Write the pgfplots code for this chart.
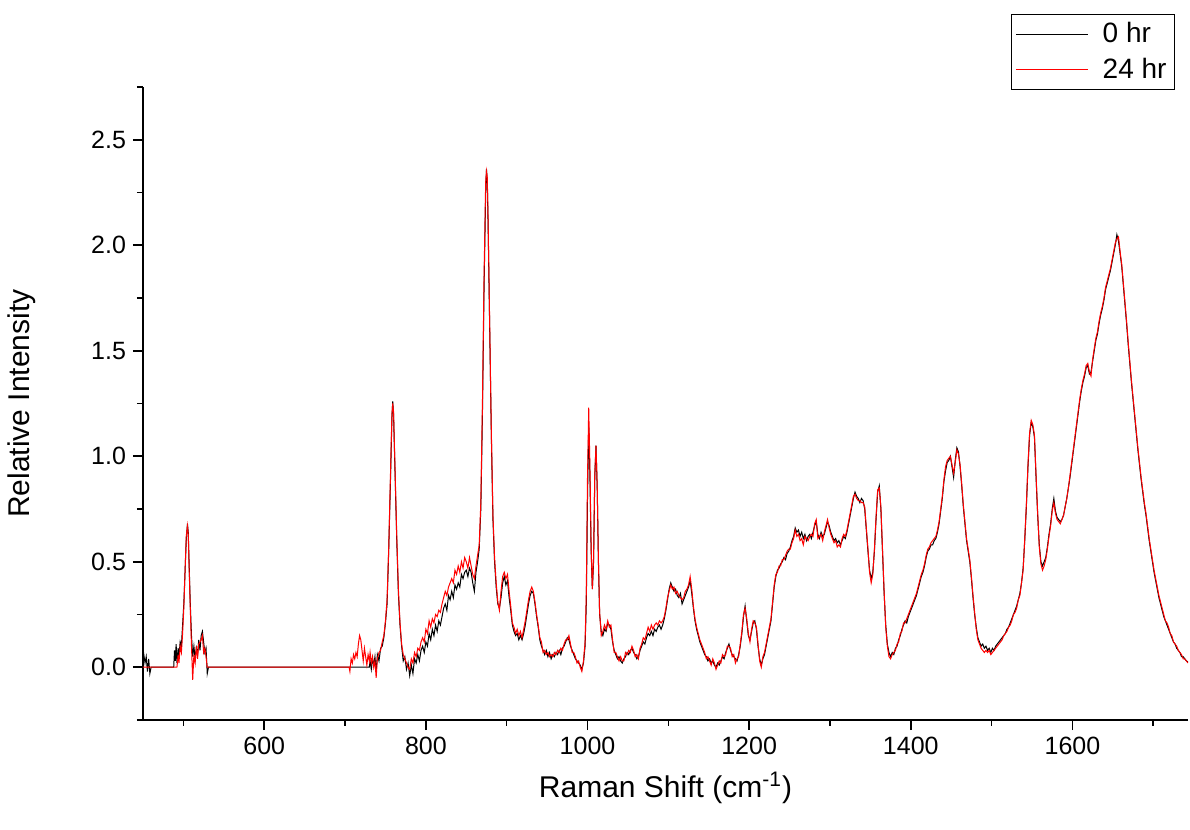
\documentclass[border=0pt]{standalone}
\usepackage{fontspec}
\setmainfont{Liberation Sans}
\usepackage{pgfplots}
\usepackage{pgfplotstable}
\pgfplotsset{compat=1.18}

% Raman spectra: x = shift (cm^-1), b = 0 hr, r = 24 hr
\pgfplotstableread{
x b r
450 0.03 0.00
451 0.06 0.00
452.5 0.02 0.00
454 0.05 0.00
455.5 -0.02 0.00
457 0.04 0.00
458.5 -0.03 0.00
460 0.00 0.00
488 0.00 0.00
489 0.08 0.00
490 0.03 0.00
491 0.11 0.00
492 0.02 0.00
493.5 0.09 0.06
494.5 0.05 0.02
496 0.12 0.10
497.5 0.10 0.07
499 0.20 0.16
500.5 0.30 0.28
502 0.45 0.45
503.5 0.60 0.62
505 0.68 0.67
506 0.64 0.63
507 0.50 0.48
508.5 0.30 0.28
510 0.15 0.10
511.5 0.05 -0.06
513 0.10 0.06
514.5 0.04 0.02
516 0.09 0.10
517.5 0.06 0.04
519 0.13 0.11
520.5 0.08 0.12
522 0.15 0.13
523.5 0.17 0.15
525 0.12 0.07
526.5 0.07 0.09
528 0.09 0.05
529.5 -0.03 0.00
531 0.00 0.00
705 0.00 0.00
706 0.00 -0.02
707.5 0.00 0.04
709 0.00 0.02
710.5 0.00 0.06
712 0.00 0.04
713.5 0.00 0.07
715 0.00 0.05
716.5 0.00 0.11
718 0.00 0.15
719.5 0.00 0.13
721 0.00 0.08
722.5 0.00 0.03
724 0.00 0.09
725.5 0.00 0.05
727 0.00 0.01
728.5 0.00 0.06
730 0.00 0.03
731 0.03 0.07
732.5 -0.01 0.02
734 0.04 0.05
735.5 0.01 0.00
737 0.05 0.03
738.5 -0.02 -0.05
740 0.06 0.04
742 0.03 0.07
744 0.09 0.08
746 0.10 0.12
748 0.14 0.15
750 0.21 0.22
752 0.30 0.32
754 0.55 0.56
756 0.85 0.88
758 1.18 1.20
759 1.26 1.25
760 1.20 1.21
762 0.90 0.92
764 0.60 0.62
766 0.35 0.37
768 0.20 0.21
770 0.10 0.11
772 0.03 0.06
774 0.05 0.04
776 -0.01 0.02
778 0.02 0.00
780 -0.04 -0.01
782 0.01 0.04
784 -0.03 0.02
786 0.04 0.07
788 0.02 0.05
790 0.06 0.09
792 0.03 0.08
794 0.08 0.12
796 0.10 0.14
798 0.07 0.12
800 0.12 0.18
802 0.10 0.16
804 0.16 0.22
806 0.13 0.19
808 0.18 0.23
810 0.15 0.21
812 0.20 0.25
814 0.17 0.24
816 0.22 0.27
818 0.20 0.26
820 0.24 0.30
822 0.28 0.33
824 0.30 0.36
826 0.27 0.34
828 0.34 0.38
830 0.32 0.40
832 0.36 0.42
834 0.33 0.40
836 0.39 0.46
838 0.37 0.44
840 0.40 0.48
842 0.38 0.45
844 0.44 0.50
846 0.42 0.47
848 0.45 0.52
850 0.46 0.50
852 0.43 0.47
854 0.47 0.52
856 0.45 0.48
858 0.40 0.44
860 0.36 0.42
862 0.45 0.48
864 0.50 0.53
866 0.56 0.58
868 0.75 0.78
870 1.20 1.25
872 1.80 1.85
874 2.25 2.30
875 2.36 2.35
876 2.30 2.32
877 2.10 2.12
879 1.60 1.62
881 1.10 1.12
883 0.70 0.72
885 0.50 0.52
887 0.38 0.40
889 0.30 0.31
891 0.28 0.27
893 0.33 0.36
895 0.40 0.43
897 0.43 0.45
899 0.39 0.42
901 0.41 0.44
903 0.33 0.36
905 0.27 0.29
907 0.20 0.21
909 0.17 0.19
911 0.15 0.16
913 0.16 0.18
915 0.13 0.15
917 0.15 0.17
919 0.13 0.14
921 0.16 0.18
923 0.20 0.22
925 0.25 0.27
927 0.30 0.32
929 0.34 0.36
931 0.36 0.38
933 0.35 0.36
935 0.30 0.31
937 0.24 0.25
939 0.19 0.20
941 0.13 0.14
943 0.10 0.12
945 0.08 0.07
947 0.06 0.08
949 0.08 0.06
951 0.05 0.07
953 0.07 0.05
955 0.04 0.06
957 0.06 0.05
959 0.05 0.07
961 0.07 0.06
963 0.06 0.08
965 0.08 0.07
967 0.06 0.09
969 0.09 0.08
971 0.10 0.11
973 0.12 0.13
975 0.14 0.13
977 0.13 0.15
979 0.10 0.11
981 0.08 0.07
983 0.06 0.07
985 0.04 0.05
987 0.03 0.02
989 0.02 0.03
991 0.01 0.00
993 -0.01 -0.02
995 0.02 0.03
997 0.10 0.12
998.5 0.30 0.35
1000 0.80 0.90
1001.5 1.14 1.23
1003 0.90 0.95
1004.5 0.55 0.57
1006 0.37 0.37
1007.5 0.50 0.52
1009 0.90 0.92
1010.5 1.05 1.05
1012 0.85 0.86
1013.5 0.50 0.51
1015 0.25 0.26
1017 0.17 0.15
1019 0.15 0.17
1021 0.18 0.20
1023 0.17 0.18
1025 0.21 0.22
1027 0.20 0.19
1029 0.18 0.20
1031 0.12 0.13
1033 0.08 0.07
1035 0.06 0.07
1037 0.04 0.05
1039 0.05 0.03
1041 0.03 0.05
1043 0.02 0.03
1045 0.04 0.03
1047 0.05 0.07
1049 0.07 0.06
1051 0.06 0.08
1053 0.08 0.07
1055 0.09 0.10
1057 0.07 0.08
1059 0.06 0.05
1061 0.04 0.06
1063 0.05 0.04
1065 0.08 0.09
1067 0.10 0.11
1069 0.12 0.14
1071 0.11 0.13
1073 0.14 0.16
1075 0.16 0.19
1077 0.15 0.17
1079 0.17 0.20
1081 0.15 0.18
1083 0.18 0.20
1085 0.17 0.21
1087 0.19 0.20
1089 0.20 0.22
1091 0.18 0.21
1093 0.20 0.22
1095 0.23 0.24
1097 0.27 0.28
1099 0.32 0.33
1101 0.37 0.36
1103 0.40 0.39
1105 0.38 0.37
1107 0.36 0.38
1109 0.37 0.35
1111 0.34 0.36
1113 0.33 0.34
1115 0.35 0.33
1117 0.30 0.32
1119 0.32 0.33
1121 0.34 0.36
1123 0.36 0.37
1125 0.38 0.39
1127 0.41 0.43
1129 0.35 0.37
1131 0.28 0.29
1133 0.22 0.23
1135 0.18 0.19
1137 0.15 0.16
1139 0.12 0.13
1141 0.10 0.11
1143 0.08 0.09
1145 0.06 0.07
1147 0.05 0.04
1149 0.03 0.05
1151 0.04 0.03
1153 0.02 0.01
1155 0.03 0.04
1157 0.01 0.02
1159 0.00 -0.01
1161 0.02 0.01
1163 0.01 0.03
1165 0.03 0.02
1167 0.05 0.06
1169 0.04 0.05
1171 0.07 0.06
1173 0.09 0.10
1175 0.11 0.10
1177 0.08 0.09
1179 0.06 0.05
1181 0.05 0.06
1183 0.04 0.02
1185 0.03 0.04
1187 0.06 0.05
1189 0.10 0.11
1191 0.16 0.17
1193 0.24 0.25
1195 0.29 0.28
1197 0.22 0.23
1199 0.15 0.16
1201 0.13 0.12
1203 0.17 0.18
1205 0.21 0.22
1207 0.22 0.21
1209 0.18 0.19
1211 0.10 0.11
1213 0.04 0.03
1215 0.01 0.00
1217 0.04 0.05
1219 0.06 0.07
1221 0.10 0.11
1223 0.14 0.15
1225 0.18 0.19
1227 0.22 0.23
1229 0.30 0.31
1231 0.38 0.39
1233 0.43 0.44
1235 0.46 0.45
1237 0.47 0.48
1239 0.49 0.48
1241 0.50 0.51
1243 0.52 0.51
1245 0.51 0.53
1247 0.54 0.55
1249 0.55 0.56
1251 0.57 0.56
1253 0.60 0.59
1255 0.62 0.61
1257 0.66 0.65
1259 0.64 0.62
1261 0.65 0.63
1263 0.62 0.60
1265 0.64 0.61
1267 0.61 0.58
1269 0.63 0.62
1271 0.60 0.61
1273 0.62 0.60
1275 0.63 0.62
1277 0.61 0.63
1279 0.64 0.62
1281 0.67 0.68
1283 0.69 0.70
1285 0.63 0.61
1287 0.61 0.62
1289 0.64 0.63
1291 0.62 0.60
1293 0.63 0.64
1295 0.66 0.67
1297 0.69 0.70
1299 0.67 0.66
1301 0.64 0.63
1303 0.62 0.61
1305 0.60 0.59
1307 0.61 0.60
1309 0.59 0.57
1311 0.60 0.58
1313 0.58 0.57
1315 0.60 0.61
1317 0.62 0.63
1319 0.61 0.62
1321 0.64 0.65
1323 0.68 0.69
1325 0.72 0.73
1327 0.76 0.77
1329 0.80 0.81
1331 0.83 0.82
1333 0.81 0.80
1335 0.80 0.79
1337 0.78 0.79
1339 0.80 0.78
1341 0.79 0.78
1343 0.75 0.76
1345 0.65 0.66
1347 0.55 0.56
1349 0.46 0.45
1351 0.42 0.40
1353 0.45 0.44
1355 0.55 0.56
1357 0.70 0.71
1359 0.83 0.84
1361 0.86 0.85
1363 0.75 0.76
1365 0.55 0.56
1367 0.35 0.36
1369 0.20 0.19
1371 0.11 0.10
1373 0.07 0.05
1375 0.05 0.04
1377 0.07 0.06
1379 0.06 0.07
1381 0.09 0.08
1383 0.10 0.11
1385 0.13 0.12
1387 0.15 0.16
1389 0.18 0.17
1391 0.20 0.21
1393 0.22 0.21
1395 0.21 0.23
1397 0.24 0.25
1399 0.26 0.27
1401 0.28 0.29
1403 0.30 0.31
1405 0.32 0.33
1407 0.34 0.35
1409 0.37 0.38
1411 0.40 0.41
1413 0.43 0.44
1415 0.45 0.46
1417 0.48 0.49
1419 0.52 0.53
1421 0.55 0.56
1423 0.56 0.57
1425 0.58 0.59
1427 0.58 0.60
1429 0.60 0.61
1431 0.61 0.62
1433 0.64 0.65
1435 0.68 0.69
1437 0.74 0.75
1439 0.80 0.81
1441 0.88 0.89
1443 0.93 0.95
1445 0.97 0.98
1447 0.98 0.99
1449 1.00 1.00
1451 0.95 0.96
1453 0.90 0.92
1455 0.98 0.97
1457 1.04 1.03
1459 1.02 1.01
1461 0.95 0.96
1463 0.86 0.87
1465 0.76 0.77
1467 0.68 0.69
1469 0.60 0.61
1471 0.55 0.56
1473 0.50 0.51
1475 0.42 0.43
1477 0.33 0.34
1479 0.25 0.26
1481 0.19 0.18
1483 0.14 0.13
1485 0.12 0.11
1487 0.10 0.09
1489 0.11 0.08
1491 0.09 0.07
1493 0.10 0.08
1495 0.08 0.07
1497 0.09 0.08
1499 0.07 0.06
1501 0.09 0.07
1503 0.08 0.08
1505 0.10 0.09
1507 0.11 0.10
1509 0.12 0.11
1511 0.13 0.12
1513 0.14 0.13
1515 0.15 0.15
1517 0.16 0.16
1519 0.18 0.17
1521 0.19 0.19
1523 0.21 0.20
1525 0.23 0.22
1527 0.25 0.25
1529 0.27 0.26
1531 0.29 0.28
1533 0.32 0.32
1535 0.35 0.34
1537 0.40 0.40
1539 0.47 0.46
1541 0.60 0.61
1543 0.76 0.77
1545 0.95 0.96
1547 1.10 1.11
1549 1.16 1.17
1551 1.14 1.15
1553 1.09 1.10
1555 0.90 0.91
1557 0.72 0.73
1559 0.58 0.57
1561 0.50 0.49
1563 0.48 0.46
1565 0.50 0.48
1567 0.52 0.51
1569 0.57 0.56
1571 0.63 0.62
1573 0.68 0.67
1575 0.75 0.74
1577 0.80 0.78
1579 0.74 0.73
1581 0.71 0.70
1583 0.70 0.69
1585 0.69 0.68
1587 0.70 0.70
1589 0.72 0.72
1591 0.76 0.76
1593 0.80 0.80
1595 0.85 0.85
1597 0.90 0.91
1599 0.96 0.97
1601 1.02 1.03
1603 1.08 1.09
1605 1.14 1.15
1607 1.20 1.21
1609 1.26 1.27
1611 1.31 1.32
1613 1.35 1.36
1615 1.38 1.39
1617 1.42 1.43
1619 1.43 1.44
1621 1.39 1.40
1623 1.40 1.38
1625 1.45 1.46
1627 1.50 1.51
1629 1.55 1.56
1631 1.58 1.59
1633 1.63 1.64
1635 1.67 1.68
1637 1.70 1.71
1639 1.74 1.75
1641 1.79 1.80
1643 1.82 1.83
1645 1.85 1.86
1647 1.88 1.89
1649 1.92 1.93
1651 1.96 1.97
1653 2.00 2.01
1655 2.05 2.03
1657 2.02 2.04
1659 1.96 1.97
1661 1.90 1.91
1663 1.81 1.82
1665 1.72 1.73
1667 1.63 1.64
1669 1.53 1.54
1671 1.44 1.45
1673 1.35 1.36
1675 1.27 1.28
1677 1.19 1.20
1679 1.11 1.12
1681 1.03 1.04
1683 0.96 0.97
1685 0.89 0.90
1687 0.83 0.84
1689 0.77 0.78
1691 0.72 0.73
1693 0.66 0.67
1695 0.60 0.61
1697 0.55 0.56
1699 0.50 0.51
1701 0.45 0.46
1703 0.41 0.42
1705 0.37 0.38
1707 0.33 0.34
1709 0.30 0.31
1711 0.27 0.28
1713 0.24 0.25
1715 0.22 0.22
1717 0.20 0.21
1719 0.18 0.19
1721 0.16 0.16
1723 0.14 0.15
1725 0.12 0.12
1727 0.11 0.11
1729 0.09 0.10
1731 0.08 0.08
1733 0.07 0.07
1735 0.05 0.06
1737 0.05 0.04
1739 0.04 0.04
1741 0.03 0.03
1743 0.025 0.02
}\spectra

\begin{document}
\begin{tikzpicture}
\begin{axis}[
    width=522.5pt, height=316.5pt,
    scale only axis,
    xmin=450, xmax=1743,
    ymin=-0.25, ymax=2.75,
    axis x line=bottom, axis y line=left,
    axis line style={line width=1pt, -},
    xtick={600,800,...,1600},
    minor xtick={500,700,...,1700},
    ytick={0,0.5,...,2.5},
    minor ytick={-0.25,0.25,...,2.75},
    tick align=outside,
    major tick length=5pt, minor tick length=3pt,
    every tick/.style={line width=0.8pt, black},
    /pgf/number format/assume math mode=true,
    /pgf/number format/1000 sep={},
    yticklabel style={/pgf/number format/fixed, /pgf/number format/fixed zerofill, /pgf/number format/precision=1},
    ticklabel style={font=\fontsize{12.5}{15}\selectfont},
    xlabel={Raman Shift (cm\textsuperscript{-1})},
    ylabel={Relative Intensity},
    label style={font=\fontsize{15}{18}\selectfont},
    xlabel style={at={(axis description cs:0.5,-0.1074)}, anchor=center},
    ylabel style={at={(axis description cs:-0.116,0.5)}, anchor=center},
    legend style={at={(rel axis cs:0.9876,1.115)}, anchor=north east,
        draw=black, line width=0.5pt, font=\fontsize{14}{16}\selectfont,
        inner sep=2pt, row sep=2pt, cells={anchor=west}},
    legend image code/.code={\draw[#1, line width=0.5pt] (-2pt,0pt) -- (34pt,0pt);
        \path (39pt,0pt);},
]
\addplot[black, line width=0.5pt] table[x=x, y=b] {\spectra};
\addlegendentry{0 hr}
\addplot[red, line width=0.5pt] table[x=x, y=r] {\spectra};
\addlegendentry{24 hr}
\coordinate (bl) at (rel axis cs:0,0);
\coordinate (tr) at (rel axis cs:1,1);
\end{axis}
\pgfresetboundingbox
\path ([xshift=-71.5pt,yshift=-55pt]bl) rectangle ([xshift=1pt,yshift=43.5pt]tr);
\end{tikzpicture}
\end{document}
